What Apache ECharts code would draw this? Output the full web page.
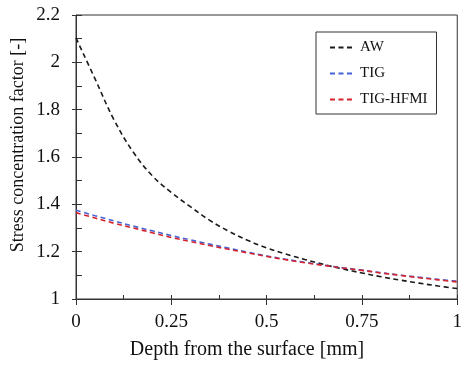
<!DOCTYPE html>
<html>
<head>
<meta charset="utf-8">
<script src="https://cdn.jsdelivr.net/npm/echarts@6/dist/echarts.min.js"></script>
<style>html,body{margin:0;padding:0;background:#fff;}#c{width:465px;height:367px;}</style>
</head>
<body>
<div id="c"></div>
<script>
var depth = [0, 0.05, 0.1, 0.15, 0.2, 0.25, 0.3, 0.35, 0.4, 0.45, 0.5, 0.55, 0.6, 0.65, 0.7, 0.75, 0.8, 0.85, 0.9, 0.95, 1.0];
var awValues = [2.103, 1.93, 1.756, 1.621, 1.521, 1.45, 1.39, 1.333, 1.287, 1.248, 1.216, 1.19, 1.167, 1.146, 1.127, 1.110, 1.094, 1.080, 1.067, 1.055, 1.044];
var tigValues = [1.375, 1.352, 1.330, 1.308, 1.288, 1.268, 1.250, 1.232, 1.215, 1.198, 1.182, 1.168, 1.155, 1.143, 1.132, 1.122, 1.111, 1.101, 1.092, 1.083, 1.075];
var hfmiValues = [1.365, 1.342, 1.320, 1.300, 1.280, 1.260, 1.243, 1.226, 1.210, 1.195, 1.180, 1.166, 1.153, 1.142, 1.131, 1.121, 1.110, 1.100, 1.090, 1.081, 1.072];
var seriesNames = ['AW', 'TIG', 'TIG-HFMI'];
var xTitle = 'Depth from the surface [mm]';
var yTitle = 'Stress concentration factor [-]';

function pairs(vals) { return depth.map(function (d, i) { return [d, vals[i]]; }); }

var FONT = '"Liberation Serif", "Times New Roman", serif';
var chart = echarts.init(document.getElementById('c'), null, {renderer: 'canvas'});
var axisColor = '#333';
function mkSeries(name, vals, color) {
  return {
    name: name, type: 'line', data: pairs(vals), smooth: 0.4, symbol: 'none',
    xAxisIndex: 0, yAxisIndex: 0,
    lineStyle: {color: color, width: 1.6, type: [5, 3.5]},
    itemStyle: {color: color}
  };
}
chart.setOption({
  animation: false,
  backgroundColor: '#fff',
  grid: {left: 76, right: 2, top: 15, bottom: 68, show: true, borderColor: axisColor, borderWidth: 1, backgroundColor: 'transparent'},
  xAxis: [{
    type: 'value', min: 0, max: 1, interval: 0.25,
    axisLine: {show: true, lineStyle: {color: axisColor, width: 1}},
    axisTick: {show: true, inside: true, length: 4, lineStyle: {color: axisColor}},
    minorTick: {show: true, splitNumber: 2, length: 4, lineStyle: {color: axisColor}},
    splitLine: {show: false},
    axisLabel: {fontFamily: FONT, fontSize: 19, color: '#111', margin: 14}
  }, {
    type: 'value', min: 0, max: 1, interval: 0.25, position: 'bottom',
    axisLine: {show: false}, axisLabel: {show: false}, splitLine: {show: false},
    axisTick: {show: true, inside: false, length: 6, lineStyle: {color: axisColor}}
  }],
  yAxis: [{
    type: 'value', min: 1, max: 2.2, interval: 0.2,
    axisLine: {show: true, lineStyle: {color: axisColor, width: 1}},
    axisTick: {show: true, inside: true, length: 6, lineStyle: {color: axisColor}},
    minorTick: {show: true, splitNumber: 2, length: 6, lineStyle: {color: axisColor}},
    splitLine: {show: false},
    axisLabel: {fontFamily: FONT, fontSize: 19, color: '#111', margin: 16}
  }, {
    type: 'value', min: 1, max: 2.2, interval: 0.2, position: 'left',
    axisLine: {show: false}, axisLabel: {show: false}, splitLine: {show: false},
    axisTick: {show: true, inside: false, length: 4, lineStyle: {color: axisColor}}
  }],
  legend: {
    data: seriesNames, orient: 'vertical', left: 316, top: 32,
    padding: [8, 9, 7, 13], itemGap: 11, itemWidth: 25, itemHeight: 14,
    borderColor: '#333', borderWidth: 1, backgroundColor: '#fff',
    itemStyle: {opacity: 0},
    textStyle: {fontFamily: FONT, fontSize: 15, color: '#111'}
  },
  graphic: [
    {type: 'text', x: 247, y: 350, style: {text: xTitle, font: '20px ' + FONT, fill: '#111', textAlign: 'center', textVerticalAlign: 'middle'}},
    {type: 'text', rotation: Math.PI / 2, x: 18, y: 145, style: {text: yTitle, font: '18px ' + FONT, fill: '#111', textAlign: 'center', textVerticalAlign: 'middle'}}
  ],
  series: [
    mkSeries(seriesNames[0], awValues, '#1a1a1a'),
    mkSeries(seriesNames[1], tigValues, '#4563d6'),
    mkSeries(seriesNames[2], hfmiValues, '#d7222b')
  ]
});
</script>
</body>
</html>
